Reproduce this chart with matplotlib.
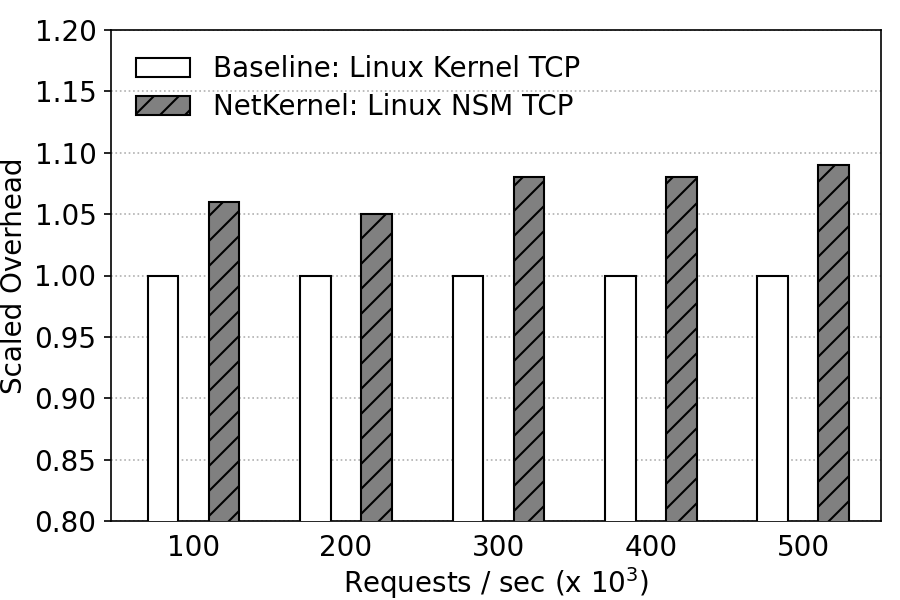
import numpy as np
import matplotlib
matplotlib.use("Agg")
import matplotlib.pyplot as plt

# request rates (x 10^3 / sec)
rates = ["100", "200", "300", "400", "500"]
baseline = [1.00, 1.00, 1.00, 1.00, 1.00]
netkernel = [1.06, 1.05, 1.08, 1.08, 1.09]

FS = 13.3
plt.rcParams['font.family'] = 'DejaVu Sans'
plt.rcParams['hatch.linewidth'] = 1.0

fig = plt.figure(figsize=(6, 4), dpi=150)
ax = fig.add_axes([111/900, 1 - 521/600, (881 - 111)/900, (521 - 30)/600])

x = np.arange(len(rates))
w = 0.2
ax.bar(x - w, baseline, w, color='white', edgecolor='black',
       linewidth=1.0, label='Baseline: Linux Kernel TCP', zorder=3)
ax.bar(x + w, netkernel, w, color='gray', edgecolor='black', hatch='//',
       linewidth=1.0, label='NetKernel: Linux NSM TCP', zorder=3)

ax.set_ylim(0.8, 1.2)
yt = np.arange(0.80, 1.201, 0.05)
ax.set_yticks(yt)
ax.set_yticklabels([f"{v:.2f}" for v in yt])
ax.set_xlim(-0.54, 4.51)
ax.set_xticks(x)
ax.set_xticklabels(rates)
ax.tick_params(axis='x', length=0, labelsize=FS, pad=6)
ax.tick_params(axis='y', labelsize=FS)

ax.yaxis.grid(True, linestyle=':', color='#b0b0b0', linewidth=0.8)
ax.set_axisbelow(True)
for s in ax.spines.values():
    s.set_linewidth(0.8)

ax.set_ylabel('Scaled Overhead', fontsize=FS, labelpad=3)
ax.set_xlabel('Requests / sec (x $10^3$)', fontsize=FS, labelpad=1.5)

ax.legend(loc='upper left', frameon=False, fontsize=FS,
          bbox_to_anchor=(0.0, 1.0), borderaxespad=0.5,
          handlelength=1.95, handletextpad=0.82, labelspacing=0.38)

fig.savefig('out.png', dpi=150)
